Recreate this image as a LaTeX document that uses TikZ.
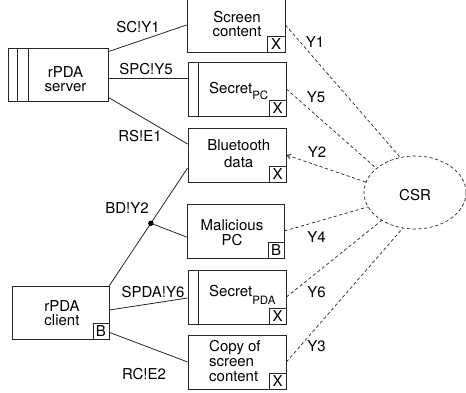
\documentclass[tikz,border=0pt]{standalone}
\usepackage{fontspec}
\setmainfont{TeX Gyre Heros}
\usetikzlibrary{calc,arrows.meta,shapes.geometric}
\begin{document}
\begin{tikzpicture}[x=1pt,y=-1pt,
  ln/.style={draw=black!85, line width=0.8pt},
  box/.style={ln, minimum width=98pt, minimum height=54pt, inner sep=0pt},
  tag/.style={ln, minimum width=17pt, minimum height=16pt, inner sep=0pt, anchor=south east, font=\fontsize{15}{15}\selectfont},
  txt/.style={inner sep=0pt, font=\fontsize{15}{15}\selectfont, align=center},
  lbl/.style={inner sep=0pt, anchor=base, font=\fontsize{15}{15}\selectfont},
  dsh/.style={draw=black!85, line width=0.7pt, dash pattern=on 3.2pt off 2.5pt},
  wire/.style={draw=black!85, line width=0.8pt}]

\useasboundingbox (0,0) rectangle (466,393);

% boxes
\node[box] (sc) at (236,25) {};
\node[tag, minimum width=18pt] (scx) at (sc.south east) {X};

\node[box] (spc) at (237,89) {};
\draw[ln] ($(spc.north west)+(11,0)$) -- ($(spc.south west)+(11,0)$);
\node[tag] (spcx) at (spc.south east) {X};

\node[box] (bt) at (237,155) {};
\node[tag] (btx) at (bt.south east) {X};

\node[box, minimum width=97pt] (mal) at (235.5,231) {};
\node[tag, minimum width=16pt] (malb) at (mal.south east) {B};

\node[box] (spda) at (237,297) {};
\draw[ln] ($(spda.north west)+(11,0)$) -- ($(spda.south west)+(11,0)$);
\node[tag] (spdax) at (spda.south east) {X};

\node[box] (copy) at (237,362) {};
\node[tag] (copyx) at (copy.south east) {X};

\node[box, minimum width=100pt, minimum height=53pt] (server) at (58,74.5) {};
\draw[ln] ($(server.north west)+(10,0)$) -- ($(server.south west)+(10,0)$);
\draw[ln] ($(server.north west)+(21,0)$) -- ($(server.south west)+(21,0)$);

\node[box, minimum width=97pt, minimum height=53pt] (client) at (60.5,312.5) {};
\node[tag, minimum width=16pt] (clientb) at (client.south east) {B};

\node[ellipse, dsh, minimum width=102pt, minimum height=73pt, inner sep=0pt] (csr) at (415,192.5) {};
\node[lbl] (csrt) at (415,200.5) {CSR};

% box texts
\node[txt, anchor=north, font=\fontsize{15}{14}\selectfont] (sct) at (237,11) {Screen\\content};
\node[txt, anchor=north] (btt) at (238.7,139) {Bluetooth\\[2pt]data};
\node[txt, anchor=north west, align=left] (copyt) at (209,340) {Copy of\\screen\\content};
\node[txt, anchor=north, font=\fontsize{15}{15.7}\selectfont] (malt) at (232,219) {Malicious\\PC};
\node[txt, anchor=north west] (spct) at (209,82) {Secret\raisebox{-5.7pt}{\fontsize{11.5}{11.5}\selectfont PC}};
\node[txt, anchor=north west] (spdat) at (209,285) {Secret\raisebox{-7.7pt}{\fontsize{11.5}{11.5}\selectfont PDA}};
\node[txt, anchor=north, font=\fontsize{15}{14}\selectfont] (servert) at (65.5,66) {rPDA\\server};
\node[txt, anchor=north, font=\fontsize{15}{14.7}\selectfont] (clientt) at (62,300) {rPDA\\client};

% solid connectors
\draw[wire] ($(server.north east)+(0,4)$) -- (sc.west);
\draw[wire] ($(server.east)+(0,3.5)$) coordinate (s2) -- (s2 -| spc.west);
\draw[wire] ($(server.south east)+(0,-4)$) -- ($(bt.west)+(0,-11)$);
\draw[wire] (client.north east) -- coordinate[pos=0.53] (j) ($(bt.west)+(0,13)$);
\fill[black] (j) circle (2.7pt);
\draw[wire] (j) -- ($(mal.west)+(0,6)$);
\draw[wire] ($(client.east)+(0,-2.5)$) -- ($(spda.west)+(0,1)$);
\draw[wire] ($(client.south east)+(0,-7)$) -- (copy.west);

% solid labels
\node[lbl] (l1) at (138,33) {SC!Y1};
\node[lbl] (l2) at (146,75) {SPC!Y5};
\node[lbl] (l3) at (140,142) {RS!E1};
\node[lbl] (l4) at (127,213) {BD!Y2};
\node[lbl] (l5) at (153,297) {SPDA!Y6};
\node[lbl] (l6) at (144,379) {RC!E2};

% dashed connectors
\draw[dsh] (sc.east) -- (csr.113);
\draw[dsh] (spc.east) -- (csr.148);
\draw[dsh, -{Straight Barb[length=4pt,width=5pt]}] (csr.168) -- (bt.east);
\draw[dsh] (mal.east) -- (csr.197);
\draw[dsh] (spda.east) -- (csr.220);
\draw[dsh] (copy.east) -- (csr.251);

\node[lbl] (y1) at (315,48) {Y1};
\node[lbl] (y5) at (316,103) {Y5};
\node[lbl] (y2) at (317,158) {Y2};
\node[lbl] (y4) at (316.5,242) {Y4};
\node[lbl] (y6) at (316.5,297) {Y6};
\node[lbl] (y3) at (316.5,351) {Y3};
\end{tikzpicture}
\end{document}
